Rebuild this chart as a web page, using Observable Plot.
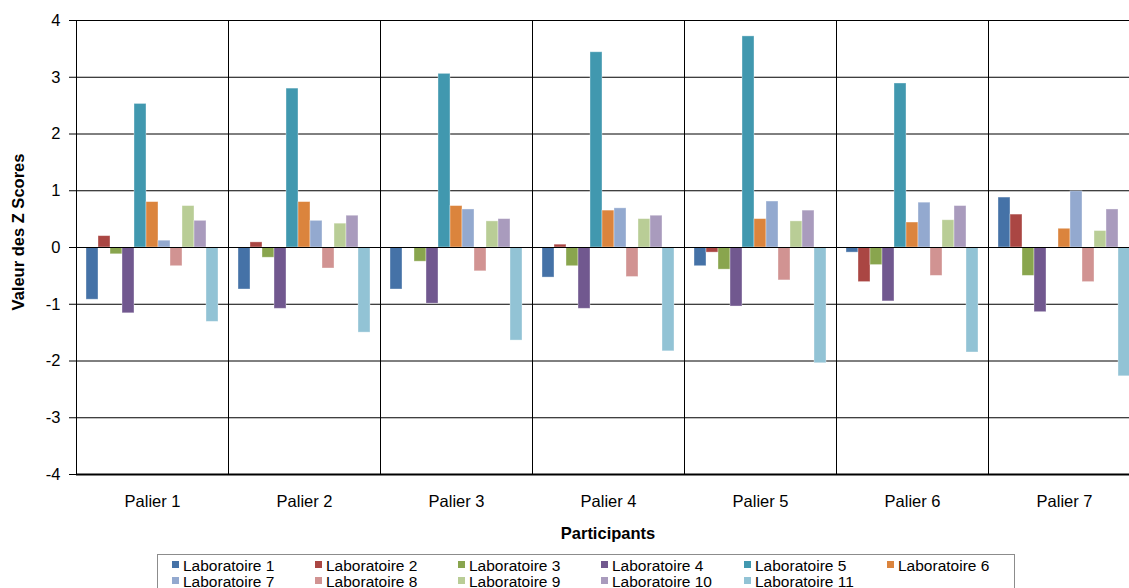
<!DOCTYPE html>
<html>
<head>
<meta charset="utf-8">
<script src="https://cdn.jsdelivr.net/npm/d3@7"></script>
<script src="https://cdn.jsdelivr.net/npm/@observablehq/plot@0.6"></script>
<style>
  html, body { margin: 0; padding: 0; background: #fff; overflow: hidden; width: 1129px; height: 588px; }
  body { position: relative; font-family: "Liberation Sans", Arial, sans-serif; }
  #chart { position: absolute; left: 0; top: 0; width: 1140px; }
  #chart svg { max-width: none !important; width: 1140px !important; height: 550px !important; }
  .ylab { position: absolute; left: 18px; top: 232px; transform: translate(-50%, -50%) rotate(-90deg); font-weight: bold; font-size: 16.5px; white-space: nowrap; color: #000; }
  .xlab { position: absolute; left: 608px; top: 523px; transform: translateX(-50%); font-weight: bold; font-size: 16.5px; line-height: 20px; white-space: nowrap; color: #000; }
  .legend { position: absolute; left: 157px; top: 554px; width: 858px; height: 44px; border: 1px solid #8c8c8c; box-sizing: border-box; padding: 3px 0 0 14px; display: grid; grid-template-columns: repeat(6, 143px); grid-auto-rows: 16px; font-size: 15.5px; line-height: 16px; color: #000; }
  .legend .item { display: flex; align-items: center; white-space: nowrap; }
  .legend .sw { width: 7px; height: 7px; margin-right: 4px; margin-top: -3px; }
</style>
</head>
<body>
<div id="chart"></div>
<div class="ylab">Valeur des Z Scores</div>
<div class="xlab">Participants</div>
<div class="legend" id="legend"></div>
<script>
const paliers = ["Palier 1", "Palier 2", "Palier 3", "Palier 4", "Palier 5", "Palier 6", "Palier 7"];
const labs = ["Laboratoire 1", "Laboratoire 2", "Laboratoire 3", "Laboratoire 4", "Laboratoire 5", "Laboratoire 6",
              "Laboratoire 7", "Laboratoire 8", "Laboratoire 9", "Laboratoire 10", "Laboratoire 11"];
const labColors = ["#4572A7", "#AA4643", "#89A54E", "#71588F", "#4198AF", "#DB843D",
                   "#93A9CF", "#D19392", "#B9CD96", "#A99BBD", "#92C3D5"];
const yTicks = [-4, -3, -2, -1, 0, 1, 2, 3, 4];

// Z scores per laboratory, one value per palier (Palier 1 .. Palier 7)
const lab1  = [-0.92, -0.74, -0.74, -0.53, -0.33, -0.09,  0.88];
const lab2  = [ 0.20,  0.09,  0.00,  0.05, -0.09, -0.61,  0.58];
const lab3  = [-0.12, -0.18, -0.25, -0.33, -0.39, -0.31, -0.50];
const lab4  = [-1.16, -1.08, -0.99, -1.08, -1.04, -0.95, -1.14];
const lab5  = [ 2.53,  2.80,  3.06,  3.44,  3.72,  2.89,  null];
const lab6  = [ 0.80,  0.80,  0.73,  0.65,  0.50,  0.44,  0.33];
const lab7  = [ 0.12,  0.47,  0.67,  0.69,  0.81,  0.79,  0.99];
const lab8  = [-0.33, -0.37, -0.42, -0.52, -0.58, -0.50, -0.61];
const lab9  = [ 0.73,  0.42,  0.46,  0.50,  0.46,  0.48,  0.29];
const lab10 = [ 0.47,  0.56,  0.50,  0.56,  0.65,  0.73,  0.67];
const lab11 = [-1.31, -1.50, -1.64, -1.83, -2.04, -1.85, -2.27];

const series = [lab1, lab2, lab3, lab4, lab5, lab6, lab7, lab8, lab9, lab10, lab11];
const data = [];
paliers.forEach((p, pi) => {
  labs.forEach((l, li) => {
    const v = series[li][pi];
    if (v !== null) data.push({palier: p, lab: l, value: v});
  });
});

const chart = Plot.plot({
  width: 1140,
  height: 550,
  marginLeft: 76,
  marginRight: 0,
  marginTop: 20,
  marginBottom: 76,
  style: {fontFamily: "Liberation Sans, Arial, sans-serif", fontSize: "16.5px", color: "#000", background: "#fff"},
  fx: {domain: paliers, padding: 0},
  x: {domain: labs, paddingInner: 0, paddingOuter: 0.68, axis: null},
  y: {domain: [-4, 4], ticks: yTicks},
  color: {domain: labs, range: labColors},
  marks: [
    Plot.ruleY(yTicks, {stroke: "#000", strokeWidth: 1}),
    Plot.frame({stroke: "#000", strokeWidth: 1}),
    Plot.barY(data, {fx: "palier", x: "lab", y: "value", fill: "lab", stroke: "#fff", strokeOpacity: 0.45, strokeWidth: 0.8}),
    Plot.ruleY([0], {stroke: "#000", strokeWidth: 1.2}),
    Plot.ruleY([-4], {stroke: "#000", strokeWidth: 2}),
    Plot.axisY({ticks: yTicks, tickSize: 7, tickPadding: 9, label: null, tickFormat: d => String(d), fontSize: 16.5}),
    Plot.ruleX([0], {frameAnchor: "left", stroke: "#000"}),
    Plot.axisFx({anchor: "bottom", tickSize: 0, tickPadding: 21, label: null, fontSize: 16.5})
  ]
});
document.getElementById("chart").appendChild(chart);

const leg = document.getElementById("legend");
labs.forEach((l, i) => {
  const item = document.createElement("div");
  item.className = "item";
  const sw = document.createElement("span");
  sw.className = "sw";
  sw.style.background = labColors[i];
  const tx = document.createElement("span");
  tx.textContent = l;
  item.appendChild(sw);
  item.appendChild(tx);
  leg.appendChild(item);
});
</script>
</body>
</html>
